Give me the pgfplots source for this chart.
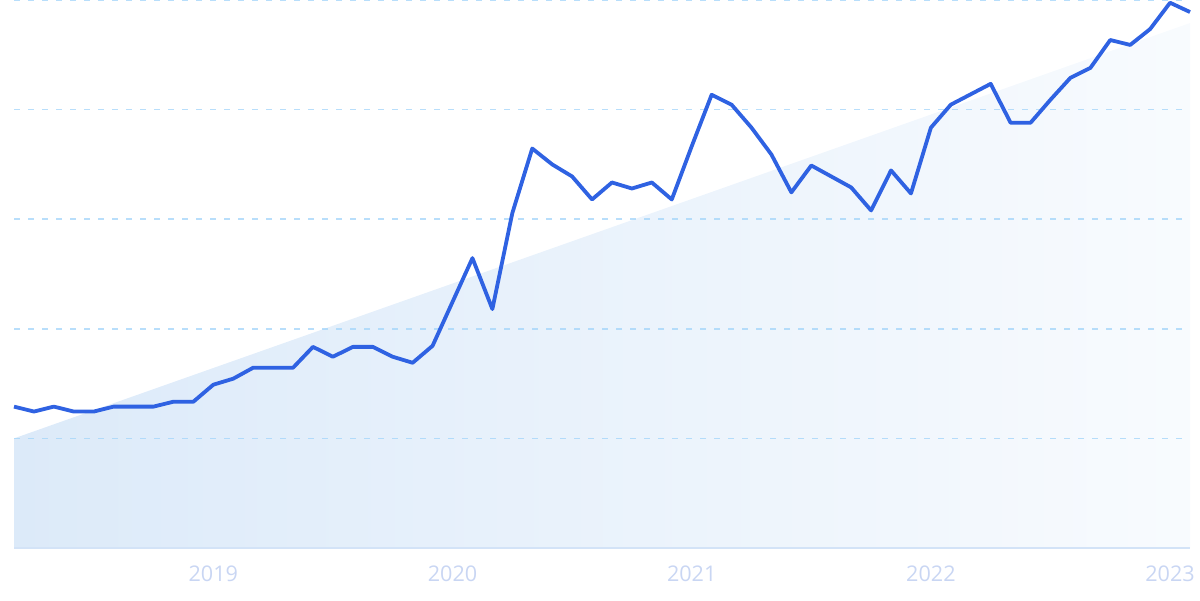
\documentclass[border=0pt]{standalone}
\usepackage{fontspec}
\setmainfont{Open Sans}
\usepackage{pgfplots}
\pgfplotsset{compat=1.18}
\definecolor{trendline}{HTML}{2F62E2}
\definecolor{gridc}{HTML}{A6D6FA}
\definecolor{baseline}{HTML}{D3E3F7}
\definecolor{ticktext}{HTML}{C9D6F3}
\definecolor{fillleft}{HTML}{DCEAF9}
\definecolor{fillright}{HTML}{F8FBFE}

% monthly index: 2 = Mar 2018 ... 61 = Feb 2023
\pgfplotstableread{
m v
2 25.8
3 24.9
4 25.8
5 24.9
6 24.9
7 25.8
8 25.8
9 25.8
10 26.7
11 26.7
12 29.8
13 30.9
14 32.9
15 32.9
16 32.9
17 36.7
18 34.9
19 36.7
20 36.7
21 34.9
22 33.8
23 36.9
24 44.9
25 52.9
26 43.6
27 61.1
28 72.9
29 70.0
30 67.8
31 63.6
32 66.7
33 65.6
34 66.7
35 63.6
36 73.3
37 82.7
38 80.9
39 76.7
40 71.8
41 64.9
42 69.8
43 67.8
44 65.8
45 61.6
46 68.9
47 64.7
48 76.7
49 80.9
50 82.8
51 84.7
52 77.6
53 77.6
54 81.8
55 85.8
56 87.6
57 92.7
58 91.8
59 94.7
60 99.5
61 97.8
}\interest

\pgfplotstableread{
m v
2 20.0
61 95.8
}\trend

\begin{document}
\begin{tikzpicture}
\begin{axis}[
  set layers=standard,
  scale only axis,
  width=588pt, height=274pt,
  xmin=2, xmax=61,
  ymin=0, ymax=100,
  clip=false,
  axis lines*=left,
  y axis line style={draw=none},
  x axis line style={draw=baseline, line width=1pt, -},
  xtick={12,24,36,48,60},
  xticklabels={2019,2020,2021,2022,2023},
  ytick={20,40,60,80,100},
  yticklabels={},
  tick style={draw=none},
  ymajorgrids,
  major grid style={draw=gridc, draw opacity=0.8, line width=0.75pt, dash pattern=on 3pt off 4pt},
  xticklabel style={font=\fontsize{10.8}{12}\selectfont, text=ticktext, yshift=-5.5pt},
]
  \path (rel axis cs:0,0) coordinate (A) (rel axis cs:1,1) coordinate (B);
  \addplot[on layer=axis background, draw=none, left color=fillleft, right color=fillright]
    table[x=m, y=v] {\trend} \closedcycle;
  \addplot[trendline, line width=1.9pt, line join=round] table[x=m, y=v] {\interest};
\end{axis}
\pgfresetboundingbox
\path (A) ++(-7pt,-26pt) rectangle ([shift={(5pt,0pt)}]B);
\end{tikzpicture}
\end{document}
